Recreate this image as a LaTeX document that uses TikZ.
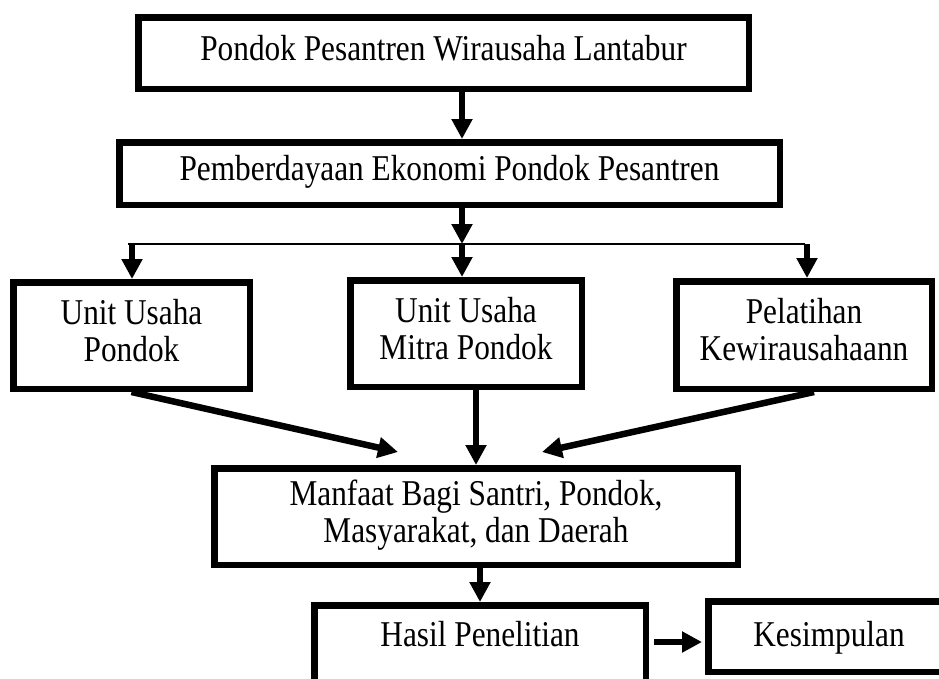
\documentclass[tikz,border=0pt]{standalone}
\usepackage{fontspec}
\usepackage{graphicx}
\setmainfont{Liberation Serif}
\usetikzlibrary{arrows.meta}
\newcommand\boxfont{\fontsize{31.3}{32}\selectfont}
\newcommand\vtext[1]{\scalebox{1}[1.16]{\begin{tabular}{@{}c@{}}#1\end{tabular}}}
\begin{document}
\begin{tikzpicture}[x=1pt,y=-1pt,
  box/.style={draw, line width=6.5pt, inner sep=0pt, font=\boxfont},
  arr/.style={line width=6.5pt, -{Triangle[width=20pt,length=20pt]}},
  bus/.style={line width=1.8pt}]
\clip (0,0) rectangle (939,678);
\fill[white] (0,0) rectangle (939,678);

\node[box, minimum width=610.5, minimum height=71.5] (b1) at (443.5,53) {\vtext{Pondok Pesantren Wirausaha Lantabur}};
\node[box, minimum width=660.5, minimum height=62.5] (b2) at (449.5,173.5) {\vtext{Pemberdayaan Ekonomi Pondok Pesantren}};
\node[box, minimum width=236.5, minimum height=106.5] (b3a) at (131.5,335.5) {\vtext{Unit Usaha\\Pondok}};
\node[box, minimum width=231.5, minimum height=106.5] (b3b) at (466,333.5) {\vtext{Unit Usaha\\Mitra Pondok}};
\node[box, minimum width=255.5, minimum height=107.5] (b3c) at (804,335) {\vtext{Pelatihan\\Kewirausahaann}};
\node[box, minimum width=523.5, minimum height=96.5] (b4) at (476,516.5) {\vtext{Manfaat Bagi Santri, Pondok,\\Masyarakat, dan Daerah}};
\node[box, minimum width=331.5, text height=40.75pt, text depth=59pt, anchor=north] (b5) at (480,602) {\scalebox{1}[1.16]{Hasil Penelitian}};
\node[box, minimum width=241.5, text height=44.75pt, text depth=25.75pt, anchor=north west] (b6) at (705,598) {\scalebox{1}[1.16]{Kesimpulan}};

\coordinate (ax) at (462,0);
\coordinate (busL) at (128,244);
\coordinate (busR) at (805,244);
\coordinate (bus1) at (132,244);
\coordinate (bus2) at (462,244);
\coordinate (bus3) at (807,244);
\coordinate (t1) at (398,452);
\coordinate (t3) at (542,452);
\coordinate (hk) at (0,642);

\draw[arr] (b1.south -| ax) -- (b2.north -| ax);
\draw[arr] (b2.south -| ax) -- (bus2);
\draw[bus] (busL) -- (busR);
\draw[arr] (bus1) -- (bus1 |- b3a.north);
\draw[arr] (bus2) -- (bus2 |- b3b.north);
\draw[arr] (bus3) -- (bus3 |- b3c.north);

\draw[arr] (b3a.south) -- (t1);
\draw[arr] (b3b.south -| b4.north) -- (b4.north);
\draw[arr] ([xshift=10pt]b3c.south) -- (t3);

\draw[arr] (b4.south -| b5.north) -- (b5.north);
\draw[arr, shorten <=5pt, shorten >=3pt] (b5.east |- hk) -- (b6.west |- hk);
\end{tikzpicture}
\end{document}
